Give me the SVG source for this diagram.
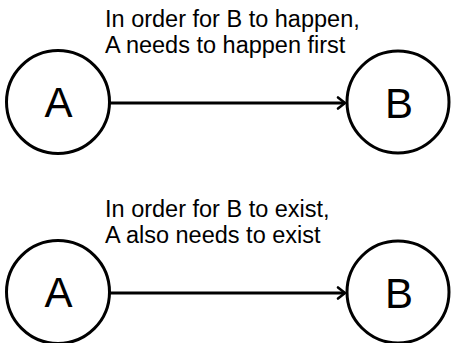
<svg xmlns="http://www.w3.org/2000/svg" width="451" height="343" viewBox="0 0 451 343">
<style>
.node circle{fill:#fff;stroke:#000;stroke-width:3}
.node text{font-family:"Liberation Sans",Arial,sans-serif;font-size:42px;fill:#000;text-anchor:middle}
.lbl{font-family:"Liberation Sans",Arial,sans-serif;font-size:23.5px;fill:#000}
.edge{stroke:#000;stroke-width:3;fill:none}
</style>
<defs>
<marker id="arr" markerUnits="userSpaceOnUse" markerWidth="14" markerHeight="16" refX="11" refY="8" orient="auto">
<path d="M4,2.5 L11,8 L4,13.5" fill="none" stroke="#000" stroke-width="2.6" stroke-linecap="round" stroke-linejoin="round"/>
</marker>
</defs>
<g id="connectors">
<line class="edge" x1="110" y1="103" x2="345" y2="103" marker-end="url(#arr)"/>
<line class="edge" x1="110" y1="293" x2="345" y2="293" marker-end="url(#arr)"/>
</g>
<g id="nodeA1" class="node"><circle cx="58" cy="102" r="51.5"/><text x="58.5" y="117">A</text></g>
<g id="nodeB1" class="node"><circle cx="398" cy="102" r="51"/><text x="399" y="118">B</text></g>
<g id="nodeA2" class="node"><circle cx="58" cy="292" r="51.5"/><text x="58.5" y="307">A</text></g>
<g id="nodeB2" class="node"><circle cx="398" cy="292" r="51"/><text x="399" y="308">B</text></g>
<g id="labels">
<text class="lbl" x="105" y="27">In order for B to happen,</text>
<text class="lbl" x="105" y="53">A needs to happen first</text>
<text class="lbl" x="105" y="217">In order for B to exist,</text>
<text class="lbl" x="105" y="243">A also needs to exist</text>
</g>
</svg>
